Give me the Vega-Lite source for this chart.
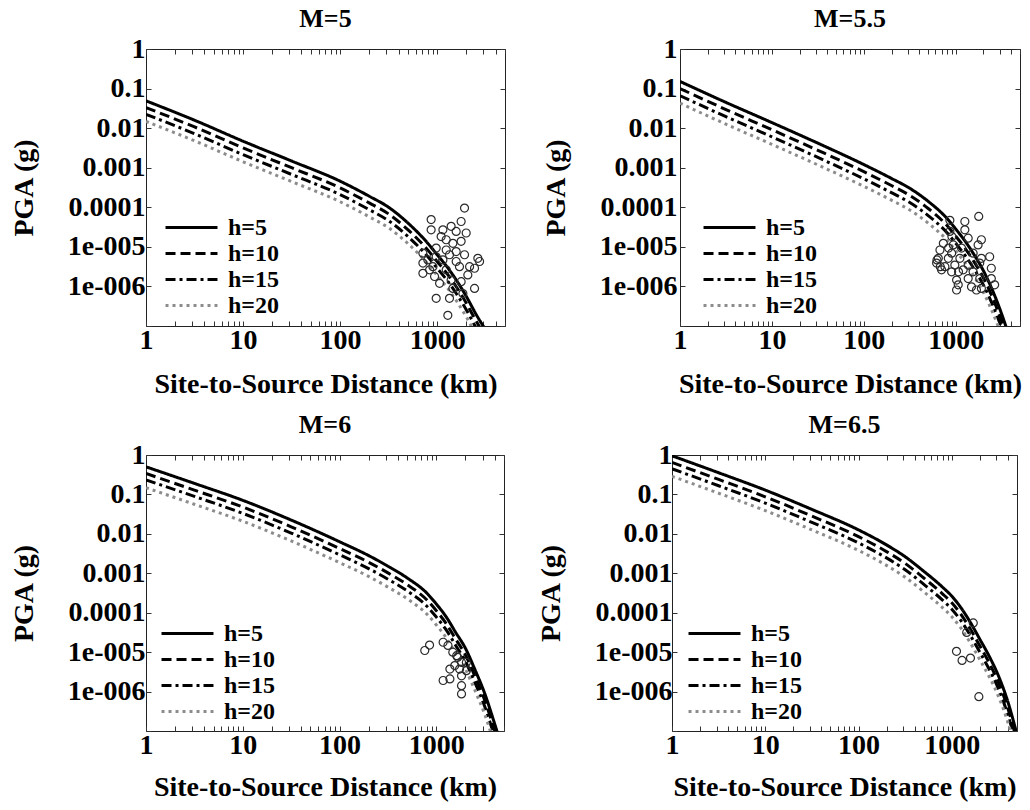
{
"$schema": "https://vega.github.io/schema/vega-lite/v6.json",
"background": "white",
"padding": {"left": 9, "top": 5, "right": 2, "bottom": 2},
"config": {
  "view": {"stroke": "#222222", "strokeWidth": 1},
  "axis": {"labelFont": "Liberation Serif", "labelFontWeight": "bold", "labelFontSize": 28, "labelColor": "black",
           "titleFont": "Liberation Serif", "titleFontWeight": "bold", "titleFontSize": 28, "titleColor": "black",
           "tickSize": -5, "tickColor": "#333333", "domain": false, "grid": false, "labelOverlap": false, "labelFlush": false},
  "title": {"font": "Liberation Serif", "fontSize": 26, "fontWeight": "bold", "color": "black", "offset": 3, "anchor": "middle"},
  "legend": {"title": null, "orient": "none", "legendY": 168, "symbolType": "stroke", "symbolSize": 2700, "symbolStrokeWidth": 3,
             "labelFont": "Liberation Serif", "labelFontSize": 24, "labelFontWeight": "bold", "labelColor": "black",
             "labelOffset": 9, "clipHeight": 21, "rowPadding": 1, "padding": 0}
},
"datasets": {
"curves": [
{"M":"M=5","h":"h=5","R":1,"PGA":0.04898},{"M":"M=5","h":"h=5","R":3.162,"PGA":0.01585},{"M":"M=5","h":"h=5","R":10,"PGA":0.004677},{"M":"M=5","h":"h=5","R":31.62,"PGA":0.001479},{"M":"M=5","h":"h=5","R":100,"PGA":4.571e-4},{"M":"M=5","h":"h=5","R":199.5,"PGA":1.905e-4},{"M":"M=5","h":"h=5","R":316.2,"PGA":1e-4},{"M":"M=5","h":"h=5","R":501.2,"PGA":3.981e-5},{"M":"M=5","h":"h=5","R":794.3,"PGA":1.259e-5},{"M":"M=5","h":"h=5","R":1000,"PGA":6.31e-6},{"M":"M=5","h":"h=5","R":1259,"PGA":3.162e-6},{"M":"M=5","h":"h=5","R":1585,"PGA":1.413e-6},{"M":"M=5","h":"h=5","R":1995,"PGA":5.623e-7},{"M":"M=5","h":"h=5","R":2512,"PGA":1.995e-7},{"M":"M=5","h":"h=5","R":3162,"PGA":7.943e-8},
{"M":"M=5","h":"h=10","R":1,"PGA":0.03311},{"M":"M=5","h":"h=10","R":3.162,"PGA":0.01072},{"M":"M=5","h":"h=10","R":10,"PGA":0.003162},{"M":"M=5","h":"h=10","R":31.62,"PGA":0.001},{"M":"M=5","h":"h=10","R":100,"PGA":3.09e-4},{"M":"M=5","h":"h=10","R":199.5,"PGA":1.288e-4},{"M":"M=5","h":"h=10","R":316.2,"PGA":6.761e-5},{"M":"M=5","h":"h=10","R":501.2,"PGA":2.692e-5},{"M":"M=5","h":"h=10","R":794.3,"PGA":8.511e-6},{"M":"M=5","h":"h=10","R":1000,"PGA":4.266e-6},{"M":"M=5","h":"h=10","R":1259,"PGA":2.138e-6},{"M":"M=5","h":"h=10","R":1585,"PGA":9.55e-7},{"M":"M=5","h":"h=10","R":1995,"PGA":3.802e-7},{"M":"M=5","h":"h=10","R":2512,"PGA":1.349e-7},{"M":"M=5","h":"h=10","R":3162,"PGA":5.37e-8},
{"M":"M=5","h":"h=15","R":1,"PGA":0.02239},{"M":"M=5","h":"h=15","R":3.162,"PGA":0.007244},{"M":"M=5","h":"h=15","R":10,"PGA":0.002138},{"M":"M=5","h":"h=15","R":31.62,"PGA":6.761e-4},{"M":"M=5","h":"h=15","R":100,"PGA":2.089e-4},{"M":"M=5","h":"h=15","R":199.5,"PGA":8.71e-5},{"M":"M=5","h":"h=15","R":316.2,"PGA":4.571e-5},{"M":"M=5","h":"h=15","R":501.2,"PGA":1.82e-5},{"M":"M=5","h":"h=15","R":794.3,"PGA":5.754e-6},{"M":"M=5","h":"h=15","R":1000,"PGA":2.884e-6},{"M":"M=5","h":"h=15","R":1259,"PGA":1.445e-6},{"M":"M=5","h":"h=15","R":1585,"PGA":6.457e-7},{"M":"M=5","h":"h=15","R":1995,"PGA":2.57e-7},{"M":"M=5","h":"h=15","R":2512,"PGA":9.12e-8},{"M":"M=5","h":"h=15","R":3162,"PGA":3.631e-8},
{"M":"M=5","h":"h=20","R":1,"PGA":0.01479},{"M":"M=5","h":"h=20","R":3.162,"PGA":0.004786},{"M":"M=5","h":"h=20","R":10,"PGA":0.001413},{"M":"M=5","h":"h=20","R":31.62,"PGA":4.467e-4},{"M":"M=5","h":"h=20","R":100,"PGA":1.38e-4},{"M":"M=5","h":"h=20","R":199.5,"PGA":5.754e-5},{"M":"M=5","h":"h=20","R":316.2,"PGA":3.02e-5},{"M":"M=5","h":"h=20","R":501.2,"PGA":1.202e-5},{"M":"M=5","h":"h=20","R":794.3,"PGA":3.802e-6},{"M":"M=5","h":"h=20","R":1000,"PGA":1.905e-6},{"M":"M=5","h":"h=20","R":1259,"PGA":9.55e-7},{"M":"M=5","h":"h=20","R":1585,"PGA":4.266e-7},{"M":"M=5","h":"h=20","R":1995,"PGA":1.698e-7},{"M":"M=5","h":"h=20","R":2512,"PGA":6.026e-8},{"M":"M=5","h":"h=20","R":3162,"PGA":2.399e-8},
{"M":"M=5.5","h":"h=5","R":1,"PGA":0.1514},{"M":"M=5.5","h":"h=5","R":3.162,"PGA":0.04467},{"M":"M=5.5","h":"h=5","R":10,"PGA":0.0138},{"M":"M=5.5","h":"h=5","R":31.62,"PGA":0.004169},{"M":"M=5.5","h":"h=5","R":100,"PGA":0.001202},{"M":"M=5.5","h":"h=5","R":199.5,"PGA":5.37e-4},{"M":"M=5.5","h":"h=5","R":316.2,"PGA":3.02e-4},{"M":"M=5.5","h":"h=5","R":501.2,"PGA":1.413e-4},{"M":"M=5.5","h":"h=5","R":794.3,"PGA":5.37e-5},{"M":"M=5.5","h":"h=5","R":1000,"PGA":2.818e-5},{"M":"M=5.5","h":"h=5","R":1259,"PGA":1.413e-5},{"M":"M=5.5","h":"h=5","R":1585,"PGA":6.31e-6},{"M":"M=5.5","h":"h=5","R":1995,"PGA":2.512e-6},{"M":"M=5.5","h":"h=5","R":2512,"PGA":7.943e-7},{"M":"M=5.5","h":"h=5","R":3162,"PGA":1.995e-7},{"M":"M=5.5","h":"h=5","R":3981,"PGA":3.981e-8},
{"M":"M=5.5","h":"h=10","R":1,"PGA":0.1},{"M":"M=5.5","h":"h=10","R":3.162,"PGA":0.02951},{"M":"M=5.5","h":"h=10","R":10,"PGA":0.00912},{"M":"M=5.5","h":"h=10","R":31.62,"PGA":0.002754},{"M":"M=5.5","h":"h=10","R":100,"PGA":7.943e-4},{"M":"M=5.5","h":"h=10","R":199.5,"PGA":3.548e-4},{"M":"M=5.5","h":"h=10","R":316.2,"PGA":1.995e-4},{"M":"M=5.5","h":"h=10","R":501.2,"PGA":9.333e-5},{"M":"M=5.5","h":"h=10","R":794.3,"PGA":3.548e-5},{"M":"M=5.5","h":"h=10","R":1000,"PGA":1.862e-5},{"M":"M=5.5","h":"h=10","R":1259,"PGA":9.333e-6},{"M":"M=5.5","h":"h=10","R":1585,"PGA":4.169e-6},{"M":"M=5.5","h":"h=10","R":1995,"PGA":1.66e-6},{"M":"M=5.5","h":"h=10","R":2512,"PGA":5.248e-7},{"M":"M=5.5","h":"h=10","R":3162,"PGA":1.318e-7},{"M":"M=5.5","h":"h=10","R":3981,"PGA":2.63e-8},
{"M":"M=5.5","h":"h=15","R":1,"PGA":0.06607},{"M":"M=5.5","h":"h=15","R":3.162,"PGA":0.0195},{"M":"M=5.5","h":"h=15","R":10,"PGA":0.006026},{"M":"M=5.5","h":"h=15","R":31.62,"PGA":0.00182},{"M":"M=5.5","h":"h=15","R":100,"PGA":5.248e-4},{"M":"M=5.5","h":"h=15","R":199.5,"PGA":2.344e-4},{"M":"M=5.5","h":"h=15","R":316.2,"PGA":1.318e-4},{"M":"M=5.5","h":"h=15","R":501.2,"PGA":6.166e-5},{"M":"M=5.5","h":"h=15","R":794.3,"PGA":2.344e-5},{"M":"M=5.5","h":"h=15","R":1000,"PGA":1.23e-5},{"M":"M=5.5","h":"h=15","R":1259,"PGA":6.166e-6},{"M":"M=5.5","h":"h=15","R":1585,"PGA":2.754e-6},{"M":"M=5.5","h":"h=15","R":1995,"PGA":1.096e-6},{"M":"M=5.5","h":"h=15","R":2512,"PGA":3.467e-7},{"M":"M=5.5","h":"h=15","R":3162,"PGA":8.71e-8},{"M":"M=5.5","h":"h=15","R":3981,"PGA":1.738e-8},
{"M":"M=5.5","h":"h=20","R":1,"PGA":0.04266},{"M":"M=5.5","h":"h=20","R":3.162,"PGA":0.01259},{"M":"M=5.5","h":"h=20","R":10,"PGA":0.00389},{"M":"M=5.5","h":"h=20","R":31.62,"PGA":0.001175},{"M":"M=5.5","h":"h=20","R":100,"PGA":3.388e-4},{"M":"M=5.5","h":"h=20","R":199.5,"PGA":1.514e-4},{"M":"M=5.5","h":"h=20","R":316.2,"PGA":8.511e-5},{"M":"M=5.5","h":"h=20","R":501.2,"PGA":3.981e-5},{"M":"M=5.5","h":"h=20","R":794.3,"PGA":1.514e-5},{"M":"M=5.5","h":"h=20","R":1000,"PGA":7.943e-6},{"M":"M=5.5","h":"h=20","R":1259,"PGA":3.981e-6},{"M":"M=5.5","h":"h=20","R":1585,"PGA":1.778e-6},{"M":"M=5.5","h":"h=20","R":1995,"PGA":7.079e-7},{"M":"M=5.5","h":"h=20","R":2512,"PGA":2.239e-7},{"M":"M=5.5","h":"h=20","R":3162,"PGA":5.623e-8},{"M":"M=5.5","h":"h=20","R":3981,"PGA":1.122e-8},
{"M":"M=6","h":"h=5","R":1,"PGA":0.5012},{"M":"M=6","h":"h=5","R":3.162,"PGA":0.1905},{"M":"M=6","h":"h=5","R":10,"PGA":0.07079},{"M":"M=6","h":"h=5","R":31.62,"PGA":0.02239},{"M":"M=6","h":"h=5","R":100,"PGA":0.00631},{"M":"M=6","h":"h=5","R":199.5,"PGA":0.002818},{"M":"M=6","h":"h=5","R":316.2,"PGA":0.001514},{"M":"M=6","h":"h=5","R":501.2,"PGA":7.586e-4},{"M":"M=6","h":"h=5","R":794.3,"PGA":3.162e-4},{"M":"M=6","h":"h=5","R":1000,"PGA":1.66e-4},{"M":"M=6","h":"h=5","R":1259,"PGA":7.943e-5},{"M":"M=6","h":"h=5","R":1585,"PGA":3.162e-5},{"M":"M=6","h":"h=5","R":1995,"PGA":1.259e-5},{"M":"M=6","h":"h=5","R":2512,"PGA":3.548e-6},{"M":"M=6","h":"h=5","R":3162,"PGA":8.913e-7},{"M":"M=6","h":"h=5","R":3981,"PGA":1.585e-7},{"M":"M=6","h":"h=5","R":5012,"PGA":2.512e-8},
{"M":"M=6","h":"h=10","R":1,"PGA":0.3388},{"M":"M=6","h":"h=10","R":3.162,"PGA":0.1288},{"M":"M=6","h":"h=10","R":10,"PGA":0.04786},{"M":"M=6","h":"h=10","R":31.62,"PGA":0.01514},{"M":"M=6","h":"h=10","R":100,"PGA":0.004266},{"M":"M=6","h":"h=10","R":199.5,"PGA":0.001905},{"M":"M=6","h":"h=10","R":316.2,"PGA":0.001023},{"M":"M=6","h":"h=10","R":501.2,"PGA":5.129e-4},{"M":"M=6","h":"h=10","R":794.3,"PGA":2.138e-4},{"M":"M=6","h":"h=10","R":1000,"PGA":1.122e-4},{"M":"M=6","h":"h=10","R":1259,"PGA":5.37e-5},{"M":"M=6","h":"h=10","R":1585,"PGA":2.138e-5},{"M":"M=6","h":"h=10","R":1995,"PGA":8.511e-6},{"M":"M=6","h":"h=10","R":2512,"PGA":2.399e-6},{"M":"M=6","h":"h=10","R":3162,"PGA":6.026e-7},{"M":"M=6","h":"h=10","R":3981,"PGA":1.072e-7},{"M":"M=6","h":"h=10","R":5012,"PGA":1.698e-8},
{"M":"M=6","h":"h=15","R":1,"PGA":0.2344},{"M":"M=6","h":"h=15","R":3.162,"PGA":0.08913},{"M":"M=6","h":"h=15","R":10,"PGA":0.03311},{"M":"M=6","h":"h=15","R":31.62,"PGA":0.01047},{"M":"M=6","h":"h=15","R":100,"PGA":0.002951},{"M":"M=6","h":"h=15","R":199.5,"PGA":0.001318},{"M":"M=6","h":"h=15","R":316.2,"PGA":7.079e-4},{"M":"M=6","h":"h=15","R":501.2,"PGA":3.548e-4},{"M":"M=6","h":"h=15","R":794.3,"PGA":1.479e-4},{"M":"M=6","h":"h=15","R":1000,"PGA":7.762e-5},{"M":"M=6","h":"h=15","R":1259,"PGA":3.715e-5},{"M":"M=6","h":"h=15","R":1585,"PGA":1.479e-5},{"M":"M=6","h":"h=15","R":1995,"PGA":5.888e-6},{"M":"M=6","h":"h=15","R":2512,"PGA":1.66e-6},{"M":"M=6","h":"h=15","R":3162,"PGA":4.169e-7},{"M":"M=6","h":"h=15","R":3981,"PGA":7.413e-8},{"M":"M=6","h":"h=15","R":5012,"PGA":1.175e-8},
{"M":"M=6","h":"h=20","R":1,"PGA":0.1479},{"M":"M=6","h":"h=20","R":3.162,"PGA":0.05623},{"M":"M=6","h":"h=20","R":10,"PGA":0.02089},{"M":"M=6","h":"h=20","R":31.62,"PGA":0.006607},{"M":"M=6","h":"h=20","R":100,"PGA":0.001862},{"M":"M=6","h":"h=20","R":199.5,"PGA":8.318e-4},{"M":"M=6","h":"h=20","R":316.2,"PGA":4.467e-4},{"M":"M=6","h":"h=20","R":501.2,"PGA":2.239e-4},{"M":"M=6","h":"h=20","R":794.3,"PGA":9.333e-5},{"M":"M=6","h":"h=20","R":1000,"PGA":4.898e-5},{"M":"M=6","h":"h=20","R":1259,"PGA":2.344e-5},{"M":"M=6","h":"h=20","R":1585,"PGA":9.333e-6},{"M":"M=6","h":"h=20","R":1995,"PGA":3.715e-6},{"M":"M=6","h":"h=20","R":2512,"PGA":1.047e-6},{"M":"M=6","h":"h=20","R":3162,"PGA":2.63e-7},{"M":"M=6","h":"h=20","R":3981,"PGA":4.677e-8},{"M":"M=6","h":"h=20","R":5012,"PGA":7.413e-9},
{"M":"M=6.5","h":"h=5","R":1,"PGA":0.955},{"M":"M=6.5","h":"h=5","R":3.162,"PGA":0.3548},{"M":"M=6.5","h":"h=5","R":10,"PGA":0.1288},{"M":"M=6.5","h":"h=5","R":31.62,"PGA":0.04169},{"M":"M=6.5","h":"h=5","R":100,"PGA":0.01259},{"M":"M=6.5","h":"h=5","R":199.5,"PGA":0.005248},{"M":"M=6.5","h":"h=5","R":316.2,"PGA":0.00263},{"M":"M=6.5","h":"h=5","R":501.2,"PGA":0.001122},{"M":"M=6.5","h":"h=5","R":794.3,"PGA":4.467e-4},{"M":"M=6.5","h":"h=5","R":1000,"PGA":2.63e-4},{"M":"M=6.5","h":"h=5","R":1259,"PGA":1.318e-4},{"M":"M=6.5","h":"h=5","R":1585,"PGA":5.623e-5},{"M":"M=6.5","h":"h=5","R":1995,"PGA":2.138e-5},{"M":"M=6.5","h":"h=5","R":2512,"PGA":7.943e-6},{"M":"M=6.5","h":"h=5","R":3162,"PGA":2.512e-6},{"M":"M=6.5","h":"h=5","R":3981,"PGA":5.623e-7},{"M":"M=6.5","h":"h=5","R":5012,"PGA":7.943e-8},
{"M":"M=6.5","h":"h=10","R":1,"PGA":0.6457},{"M":"M=6.5","h":"h=10","R":3.162,"PGA":0.2399},{"M":"M=6.5","h":"h=10","R":10,"PGA":0.0871},{"M":"M=6.5","h":"h=10","R":31.62,"PGA":0.02818},{"M":"M=6.5","h":"h=10","R":100,"PGA":0.008511},{"M":"M=6.5","h":"h=10","R":199.5,"PGA":0.003548},{"M":"M=6.5","h":"h=10","R":316.2,"PGA":0.001778},{"M":"M=6.5","h":"h=10","R":501.2,"PGA":7.586e-4},{"M":"M=6.5","h":"h=10","R":794.3,"PGA":3.02e-4},{"M":"M=6.5","h":"h=10","R":1000,"PGA":1.778e-4},{"M":"M=6.5","h":"h=10","R":1259,"PGA":8.913e-5},{"M":"M=6.5","h":"h=10","R":1585,"PGA":3.802e-5},{"M":"M=6.5","h":"h=10","R":1995,"PGA":1.445e-5},{"M":"M=6.5","h":"h=10","R":2512,"PGA":5.37e-6},{"M":"M=6.5","h":"h=10","R":3162,"PGA":1.698e-6},{"M":"M=6.5","h":"h=10","R":3981,"PGA":3.802e-7},{"M":"M=6.5","h":"h=10","R":5012,"PGA":5.37e-8},
{"M":"M=6.5","h":"h=15","R":1,"PGA":0.4467},{"M":"M=6.5","h":"h=15","R":3.162,"PGA":0.166},{"M":"M=6.5","h":"h=15","R":10,"PGA":0.06026},{"M":"M=6.5","h":"h=15","R":31.62,"PGA":0.0195},{"M":"M=6.5","h":"h=15","R":100,"PGA":0.005888},{"M":"M=6.5","h":"h=15","R":199.5,"PGA":0.002455},{"M":"M=6.5","h":"h=15","R":316.2,"PGA":0.00123},{"M":"M=6.5","h":"h=15","R":501.2,"PGA":5.248e-4},{"M":"M=6.5","h":"h=15","R":794.3,"PGA":2.089e-4},{"M":"M=6.5","h":"h=15","R":1000,"PGA":1.23e-4},{"M":"M=6.5","h":"h=15","R":1259,"PGA":6.166e-5},{"M":"M=6.5","h":"h=15","R":1585,"PGA":2.63e-5},{"M":"M=6.5","h":"h=15","R":1995,"PGA":1.0e-5},{"M":"M=6.5","h":"h=15","R":2512,"PGA":3.715e-6},{"M":"M=6.5","h":"h=15","R":3162,"PGA":1.175e-6},{"M":"M=6.5","h":"h=15","R":3981,"PGA":2.63e-7},{"M":"M=6.5","h":"h=15","R":5012,"PGA":3.715e-8},
{"M":"M=6.5","h":"h=20","R":1,"PGA":0.2884},{"M":"M=6.5","h":"h=20","R":3.162,"PGA":0.1072},{"M":"M=6.5","h":"h=20","R":10,"PGA":0.0389},{"M":"M=6.5","h":"h=20","R":31.62,"PGA":0.01259},{"M":"M=6.5","h":"h=20","R":100,"PGA":0.003802},{"M":"M=6.5","h":"h=20","R":199.5,"PGA":0.001585},{"M":"M=6.5","h":"h=20","R":316.2,"PGA":7.943e-4},{"M":"M=6.5","h":"h=20","R":501.2,"PGA":3.388e-4},{"M":"M=6.5","h":"h=20","R":794.3,"PGA":1.349e-4},{"M":"M=6.5","h":"h=20","R":1000,"PGA":7.943e-5},{"M":"M=6.5","h":"h=20","R":1259,"PGA":3.981e-5},{"M":"M=6.5","h":"h=20","R":1585,"PGA":1.698e-5},{"M":"M=6.5","h":"h=20","R":1995,"PGA":6.457e-6},{"M":"M=6.5","h":"h=20","R":2512,"PGA":2.399e-6},{"M":"M=6.5","h":"h=20","R":3162,"PGA":7.586e-7},{"M":"M=6.5","h":"h=20","R":3981,"PGA":1.698e-7},{"M":"M=6.5","h":"h=20","R":5012,"PGA":2.399e-8}
],
"obs": [
{"M":"M=5","R":1914,"PGA":9.55e-5},{"M":"M=5","R":867,"PGA":4.9e-5},{"M":"M=5","R":1766,"PGA":4.37e-5},{"M":"M=5","R":867,"PGA":2.69e-5},{"M":"M=5","R":1146,"PGA":2.69e-5},{"M":"M=5","R":1393,"PGA":3.31e-5},{"M":"M=5","R":1570,"PGA":2.45e-5},{"M":"M=5","R":1991,"PGA":2.24e-5},{"M":"M=5","R":1239,"PGA":1.51e-5},{"M":"M=5","R":1766,"PGA":1.38e-5},{"M":"M=5","R":1452,"PGA":1.23e-5},{"M":"M=5","R":977,"PGA":9.33e-6},{"M":"M=5","R":1239,"PGA":8.32e-6},{"M":"M=5","R":1570,"PGA":7.59e-6},{"M":"M=5","R":1914,"PGA":6.31e-6},{"M":"M=5","R":2624,"PGA":5.13e-6},{"M":"M=5","R":2735,"PGA":4.27e-6},{"M":"M=5","R":2427,"PGA":2.88e-6},{"M":"M=5","R":713,"PGA":6.92e-6},{"M":"M=5","R":802,"PGA":4.68e-6},{"M":"M=5","R":977,"PGA":5.62e-6},{"M":"M=5","R":713,"PGA":2.14e-6},{"M":"M=5","R":940,"PGA":1.78e-6},{"M":"M=5","R":1239,"PGA":2.63e-6},{"M":"M=5","R":1698,"PGA":3.16e-6},{"M":"M=5","R":1059,"PGA":1.2e-6},{"M":"M=5","R":1393,"PGA":1.45e-6},{"M":"M=5","R":1766,"PGA":1.32e-6},{"M":"M=5","R":2427,"PGA":8.91e-7},{"M":"M=5","R":977,"PGA":5.01e-7},{"M":"M=5","R":1340,"PGA":5.01e-7},{"M":"M=5","R":1288,"PGA":1.86e-7},{"M":"M=5","R":836,"PGA":2.63e-6},{"M":"M=5","R":1146,"PGA":4.68e-6},{"M":"M=5","R":1570,"PGA":4.27e-6},{"M":"M=5","R":2158,"PGA":3.16e-6},{"M":"M=5","R":713,"PGA":3.89e-6},{"M":"M=5","R":1340,"PGA":6.31e-6},{"M":"M=5","R":1099,"PGA":1.82e-5},{"M":"M=5","R":2070,"PGA":1.95e-6},{"M":"M=5","R":1452,"PGA":8.91e-7},{"M":"M=5","R":1841,"PGA":6.61e-7},{"M":"M=5","R":904,"PGA":3.16e-6},
{"M":"M=5.5","R":1778,"PGA":5.89e-5},{"M":"M=5.5","R":1256,"PGA":4.37e-5},{"M":"M=5.5","R":863,"PGA":4.68e-5},{"M":"M=5.5","R":1256,"PGA":2.69e-5},{"M":"M=5.5","R":863,"PGA":2.45e-5},{"M":"M=5.5","R":1901,"PGA":1.51e-5},{"M":"M=5.5","R":1365,"PGA":1.66e-5},{"M":"M=5.5","R":733,"PGA":1.23e-5},{"M":"M=5.5","R":940,"PGA":1.12e-5},{"M":"M=5.5","R":1750,"PGA":1.12e-5},{"M":"M=5.5","R":1156,"PGA":9.33e-6},{"M":"M=5.5","R":673,"PGA":8.32e-6},{"M":"M=5.5","R":902,"PGA":6.92e-6},{"M":"M=5.5","R":1545,"PGA":6.92e-6},{"M":"M=5.5","R":646,"PGA":5.13e-6},{"M":"M=5.5","R":830,"PGA":5.13e-6},{"M":"M=5.5","R":1109,"PGA":5.13e-6},{"M":"M=5.5","R":1901,"PGA":5.13e-6},{"M":"M=5.5","R":2339,"PGA":5.62e-6},{"M":"M=5.5","R":619,"PGA":3.89e-6},{"M":"M=5.5","R":762,"PGA":3.16e-6},{"M":"M=5.5","R":977,"PGA":3.47e-6},{"M":"M=5.5","R":1365,"PGA":3.47e-6},{"M":"M=5.5","R":1824,"PGA":3.89e-6},{"M":"M=5.5","R":2438,"PGA":2.88e-6},{"M":"M=5.5","R":701,"PGA":2.63e-6},{"M":"M=5.5","R":902,"PGA":2.34e-6},{"M":"M=5.5","R":1205,"PGA":2.63e-6},{"M":"M=5.5","R":1545,"PGA":2.34e-6},{"M":"M=5.5","R":1021,"PGA":1.45e-6},{"M":"M=5.5","R":1365,"PGA":1.58e-6},{"M":"M=5.5","R":1824,"PGA":1.58e-6},{"M":"M=5.5","R":2438,"PGA":1.58e-6},{"M":"M=5.5","R":1064,"PGA":1.1e-6},{"M":"M=5.5","R":1483,"PGA":9.77e-7},{"M":"M=5.5","R":1901,"PGA":8.91e-7},{"M":"M=5.5","R":2649,"PGA":1.1e-6},{"M":"M=5.5","R":1021,"PGA":8.13e-7},{"M":"M=5.5","R":1679,"PGA":8.13e-7},{"M":"M=5.5","R":625,"PGA":4.68e-6},{"M":"M=5.5","R":836,"PGA":9.33e-6},{"M":"M=5.5","R":908,"PGA":1.82e-5},{"M":"M=5.5","R":679,"PGA":3.16e-6},{"M":"M=5.5","R":1072,"PGA":2.34e-6},
{"M":"M=6","R":759,"PGA":1.1e-5},{"M":"M=6","R":851,"PGA":1.51e-5},{"M":"M=6","R":1175,"PGA":1.78e-5},{"M":"M=6","R":1318,"PGA":1.48e-5},{"M":"M=6","R":1479,"PGA":1.0e-5},{"M":"M=6","R":1660,"PGA":7.41e-6},{"M":"M=6","R":1820,"PGA":5.5e-6},{"M":"M=6","R":1549,"PGA":4.57e-6},{"M":"M=6","R":1380,"PGA":3.72e-6},{"M":"M=6","R":1738,"PGA":3.72e-6},{"M":"M=6","R":2042,"PGA":3.39e-6},{"M":"M=6","R":1820,"PGA":2.51e-6},{"M":"M=6","R":1175,"PGA":1.91e-6},{"M":"M=6","R":1380,"PGA":2.09e-6},{"M":"M=6","R":1820,"PGA":1.41e-6},{"M":"M=6","R":1820,"PGA":8.71e-7},{"M":"M=6","R":1622,"PGA":8.13e-6},{"M":"M=6","R":2042,"PGA":5.5e-6},
{"M":"M=6.5","R":1445,"PGA":3.16e-5},{"M":"M=6.5","R":1122,"PGA":1.05e-5},{"M":"M=6.5","R":1288,"PGA":6.17e-6},{"M":"M=6.5","R":1585,"PGA":7.08e-6},{"M":"M=6.5","R":1950,"PGA":7.41e-7},{"M":"M=6.5","R":1698,"PGA":5.5e-5}
]
},
"vconcat": [
{"hconcat": [
{"width": 359, "height": 277, "title": {"text": "M=5"},
 "layer": [
  {"data": {"name": "curves"}, "transform": [{"filter": "datum.M === 'M=5'"}],
   "mark": {"type": "line", "clip": true, "strokeWidth": 3, "interpolate": "monotone"},
   "encoding": {
    "x": {"field": "R", "type": "quantitative", "scale": {"type": "log", "domain": [1, 5000], "nice": false},
          "axis": {"orient": "bottom", "title": "Site-to-Source Distance (km)", "values": [1,2,3,4,5,6,7,8,9,10,20,30,40,50,60,70,80,90,100,200,300,400,500,600,700,800,900,1000,2000,3000,4000,5000], "labelExpr": "datum.value == 1 ? '1' : datum.value == 10 ? '10' : datum.value == 100 ? '100' : datum.value == 1000 ? '1000' : ''", "labelPadding": 5, "titlePadding": 16}},
    "y": {"field": "PGA", "type": "quantitative", "scale": {"type": "log", "domain": [1e-7, 1], "nice": false},
          "axis": {"orient": "left", "title": "PGA (g)", "values": [1e-7,1e-6,1e-5,1e-4,1e-3,0.01,0.1,1], "labelExpr": "datum.value == 1 ? '1' : datum.value == 0.1 ? '0.1' : datum.value == 0.01 ? '0.01' : datum.value == 0.001 ? '0.001' : datum.value == 0.0001 ? '0.0001' : datum.value == 0.00001 ? '1e-005' : datum.value == 0.000001 ? '1e-006' : ''", "labelPadding": 6, "titlePadding": 29}},
    "color": {"field": "h", "type": "nominal", "scale": {"domain": ["h=5","h=10","h=15","h=20"], "range": ["#000000","#000000","#000000","#8c8c8c"]}, "legend": {"legendX": 18, "rowPadding": 1, "clipHeight": 21}},
    "strokeDash": {"field": "h", "type": "nominal", "scale": {"domain": ["h=5","h=10","h=15","h=20"], "range": [[1,0],[10,5],[10,4,3,4],[3,4]]}, "legend": {"legendX": 18, "rowPadding": 1, "clipHeight": 21}}
   }},
  {"data": {"name": "obs"}, "transform": [{"filter": "datum.M === 'M=5'"}],
   "mark": {"type": "point", "shape": "circle", "filled": false, "size": 64, "color": "#2a2a2a", "strokeWidth": 1.2, "opacity": 1, "clip": true},
   "encoding": {"x": {"field": "R", "type": "quantitative", "axis": null}, "y": {"field": "PGA", "type": "quantitative", "axis": null}}},
  {"data": {"name": "curves"}, "transform": [{"filter": "datum.M === 'M=5'"}],
   "mark": {"type": "point", "opacity": 0},
   "encoding": {"x": {"field": "R", "type": "quantitative", "axis": {"orient": "top", "title": null, "labels": false, "values": [1,2,3,4,5,6,7,8,9,10,20,30,40,50,60,70,80,90,100,200,300,400,500,600,700,800,900,1000,2000,3000,4000,5000]}},
                "y": {"field": "PGA", "type": "quantitative", "axis": {"orient": "right", "title": null, "labels": false, "values": [1e-7,1e-6,1e-5,1e-4,1e-3,0.01,0.1,1]}}}}
 ],
 "resolve": {"axis": {"x": "independent", "y": "independent"}}
},
{"width": 340, "height": 277, "title": {"text": "M=5.5"},
 "layer": [
  {"data": {"name": "curves"}, "transform": [{"filter": "datum.M === 'M=5.5'"}],
   "mark": {"type": "line", "clip": true, "strokeWidth": 3, "interpolate": "monotone"},
   "encoding": {
    "x": {"field": "R", "type": "quantitative", "scale": {"type": "log", "domain": [1, 5000], "nice": false},
          "axis": {"orient": "bottom", "title": "Site-to-Source Distance (km)", "values": [1,2,3,4,5,6,7,8,9,10,20,30,40,50,60,70,80,90,100,200,300,400,500,600,700,800,900,1000,2000,3000,4000,5000], "labelExpr": "datum.value == 1 ? '1' : datum.value == 10 ? '10' : datum.value == 100 ? '100' : datum.value == 1000 ? '1000' : ''", "labelPadding": 5, "titlePadding": 16}},
    "y": {"field": "PGA", "type": "quantitative", "scale": {"type": "log", "domain": [1e-7, 1], "nice": false},
          "axis": {"orient": "left", "title": "PGA (g)", "values": [1e-7,1e-6,1e-5,1e-4,1e-3,0.01,0.1,1], "labelExpr": "datum.value == 1 ? '1' : datum.value == 0.1 ? '0.1' : datum.value == 0.01 ? '0.01' : datum.value == 0.001 ? '0.001' : datum.value == 0.0001 ? '0.0001' : datum.value == 0.00001 ? '1e-005' : datum.value == 0.000001 ? '1e-006' : ''", "labelPadding": 8, "titlePadding": 29}},
    "color": {"field": "h", "type": "nominal", "scale": {"domain": ["h=5","h=10","h=15","h=20"], "range": ["#000000","#000000","#000000","#8c8c8c"]}, "legend": {"legendX": 22, "rowPadding": 1, "clipHeight": 21}},
    "strokeDash": {"field": "h", "type": "nominal", "scale": {"domain": ["h=5","h=10","h=15","h=20"], "range": [[1,0],[10,5],[10,4,3,4],[3,4]]}, "legend": {"legendX": 22, "rowPadding": 1, "clipHeight": 21}}
   }},
  {"data": {"name": "obs"}, "transform": [{"filter": "datum.M === 'M=5.5'"}],
   "mark": {"type": "point", "shape": "circle", "filled": false, "size": 64, "color": "#2a2a2a", "strokeWidth": 1.2, "opacity": 1, "clip": true},
   "encoding": {"x": {"field": "R", "type": "quantitative", "axis": null}, "y": {"field": "PGA", "type": "quantitative", "axis": null}}},
  {"data": {"name": "curves"}, "transform": [{"filter": "datum.M === 'M=5.5'"}],
   "mark": {"type": "point", "opacity": 0},
   "encoding": {"x": {"field": "R", "type": "quantitative", "axis": {"orient": "top", "title": null, "labels": false, "values": [1,2,3,4,5,6,7,8,9,10,20,30,40,50,60,70,80,90,100,200,300,400,500,600,700,800,900,1000,2000,3000,4000,5000]}},
                "y": {"field": "PGA", "type": "quantitative", "axis": {"orient": "right", "title": null, "labels": false, "values": [1e-7,1e-6,1e-5,1e-4,1e-3,0.01,0.1,1]}}}}
 ],
 "resolve": {"axis": {"x": "independent", "y": "independent"}}
}
], "spacing": 35, "resolve": {"scale": {"color": "independent", "strokeDash": "independent"}}},
{"hconcat": [
{"width": 358, "height": 276, "title": {"text": "M=6"},
 "layer": [
  {"data": {"name": "curves"}, "transform": [{"filter": "datum.M === 'M=6'"}],
   "mark": {"type": "line", "clip": true, "strokeWidth": 3, "interpolate": "monotone"},
   "encoding": {
    "x": {"field": "R", "type": "quantitative", "scale": {"type": "log", "domain": [1, 5000], "nice": false},
          "axis": {"orient": "bottom", "title": "Site-to-Source Distance (km)", "values": [1,2,3,4,5,6,7,8,9,10,20,30,40,50,60,70,80,90,100,200,300,400,500,600,700,800,900,1000,2000,3000,4000,5000], "labelExpr": "datum.value == 1 ? '1' : datum.value == 10 ? '10' : datum.value == 100 ? '100' : datum.value == 1000 ? '1000' : ''", "labelPadding": 5, "titlePadding": 14}},
    "y": {"field": "PGA", "type": "quantitative", "scale": {"type": "log", "domain": [1e-7, 1], "nice": false},
          "axis": {"orient": "left", "title": "PGA (g)", "values": [1e-7,1e-6,1e-5,1e-4,1e-3,0.01,0.1,1], "labelExpr": "datum.value == 1 ? '1' : datum.value == 0.1 ? '0.1' : datum.value == 0.01 ? '0.01' : datum.value == 0.001 ? '0.001' : datum.value == 0.0001 ? '0.0001' : datum.value == 0.00001 ? '1e-005' : datum.value == 0.000001 ? '1e-006' : ''", "labelPadding": 6, "titlePadding": 29}},
    "color": {"field": "h", "type": "nominal", "scale": {"domain": ["h=5","h=10","h=15","h=20"], "range": ["#000000","#000000","#000000","#8c8c8c"]}, "legend": {"legendX": 14, "rowPadding": 1, "clipHeight": 21}},
    "strokeDash": {"field": "h", "type": "nominal", "scale": {"domain": ["h=5","h=10","h=15","h=20"], "range": [[1,0],[10,5],[10,4,3,4],[3,4]]}, "legend": {"legendX": 14, "rowPadding": 1, "clipHeight": 21}}
   }},
  {"data": {"name": "obs"}, "transform": [{"filter": "datum.M === 'M=6'"}],
   "mark": {"type": "point", "shape": "circle", "filled": false, "size": 64, "color": "#2a2a2a", "strokeWidth": 1.2, "opacity": 1, "clip": true},
   "encoding": {"x": {"field": "R", "type": "quantitative", "axis": null}, "y": {"field": "PGA", "type": "quantitative", "axis": null}}},
  {"data": {"name": "curves"}, "transform": [{"filter": "datum.M === 'M=6'"}],
   "mark": {"type": "point", "opacity": 0},
   "encoding": {"x": {"field": "R", "type": "quantitative", "axis": {"orient": "top", "title": null, "labels": false, "values": [1,2,3,4,5,6,7,8,9,10,20,30,40,50,60,70,80,90,100,200,300,400,500,600,700,800,900,1000,2000,3000,4000,5000]}},
                "y": {"field": "PGA", "type": "quantitative", "axis": {"orient": "right", "title": null, "labels": false, "values": [1e-7,1e-6,1e-5,1e-4,1e-3,0.01,0.1,1]}}}}
 ],
 "resolve": {"axis": {"x": "independent", "y": "independent"}}
},
{"width": 345, "height": 276, "title": {"text": "M=6.5"},
 "layer": [
  {"data": {"name": "curves"}, "transform": [{"filter": "datum.M === 'M=6.5'"}],
   "mark": {"type": "line", "clip": true, "strokeWidth": 3, "interpolate": "monotone"},
   "encoding": {
    "x": {"field": "R", "type": "quantitative", "scale": {"type": "log", "domain": [1, 5000], "nice": false},
          "axis": {"orient": "bottom", "title": "Site-to-Source Distance (km)", "values": [1,2,3,4,5,6,7,8,9,10,20,30,40,50,60,70,80,90,100,200,300,400,500,600,700,800,900,1000,2000,3000,4000,5000], "labelExpr": "datum.value == 1 ? '1' : datum.value == 10 ? '10' : datum.value == 100 ? '100' : datum.value == 1000 ? '1000' : ''", "labelPadding": 5, "titlePadding": 14}},
    "y": {"field": "PGA", "type": "quantitative", "scale": {"type": "log", "domain": [1e-7, 1], "nice": false},
          "axis": {"orient": "left", "title": "PGA (g)", "values": [1e-7,1e-6,1e-5,1e-4,1e-3,0.01,0.1,1], "labelExpr": "datum.value == 1 ? '1' : datum.value == 0.1 ? '0.1' : datum.value == 0.01 ? '0.01' : datum.value == 0.001 ? '0.001' : datum.value == 0.0001 ? '0.0001' : datum.value == 0.00001 ? '1e-005' : datum.value == 0.000001 ? '1e-006' : ''", "labelPadding": 5, "titlePadding": 29}},
    "color": {"field": "h", "type": "nominal", "scale": {"domain": ["h=5","h=10","h=15","h=20"], "range": ["#000000","#000000","#000000","#8c8c8c"]}, "legend": {"legendX": 15, "rowPadding": 1, "clipHeight": 21}},
    "strokeDash": {"field": "h", "type": "nominal", "scale": {"domain": ["h=5","h=10","h=15","h=20"], "range": [[1,0],[10,5],[10,4,3,4],[3,4]]}, "legend": {"legendX": 15, "rowPadding": 1, "clipHeight": 21}}
   }},
  {"data": {"name": "obs"}, "transform": [{"filter": "datum.M === 'M=6.5'"}],
   "mark": {"type": "point", "shape": "circle", "filled": false, "size": 64, "color": "#2a2a2a", "strokeWidth": 1.2, "opacity": 1, "clip": true},
   "encoding": {"x": {"field": "R", "type": "quantitative", "axis": null}, "y": {"field": "PGA", "type": "quantitative", "axis": null}}},
  {"data": {"name": "curves"}, "transform": [{"filter": "datum.M === 'M=6.5'"}],
   "mark": {"type": "point", "opacity": 0},
   "encoding": {"x": {"field": "R", "type": "quantitative", "axis": {"orient": "top", "title": null, "labels": false, "values": [1,2,3,4,5,6,7,8,9,10,20,30,40,50,60,70,80,90,100,200,300,400,500,600,700,800,900,1000,2000,3000,4000,5000]}},
                "y": {"field": "PGA", "type": "quantitative", "axis": {"orient": "right", "title": null, "labels": false, "values": [1e-7,1e-6,1e-5,1e-4,1e-3,0.01,0.1,1]}}}}
 ],
 "resolve": {"axis": {"x": "independent", "y": "independent"}}
}
], "spacing": 28, "resolve": {"scale": {"color": "independent", "strokeDash": "independent"}}}
],
"spacing": 12,
"resolve": {"scale": {"color": "independent", "strokeDash": "independent"}}
}
